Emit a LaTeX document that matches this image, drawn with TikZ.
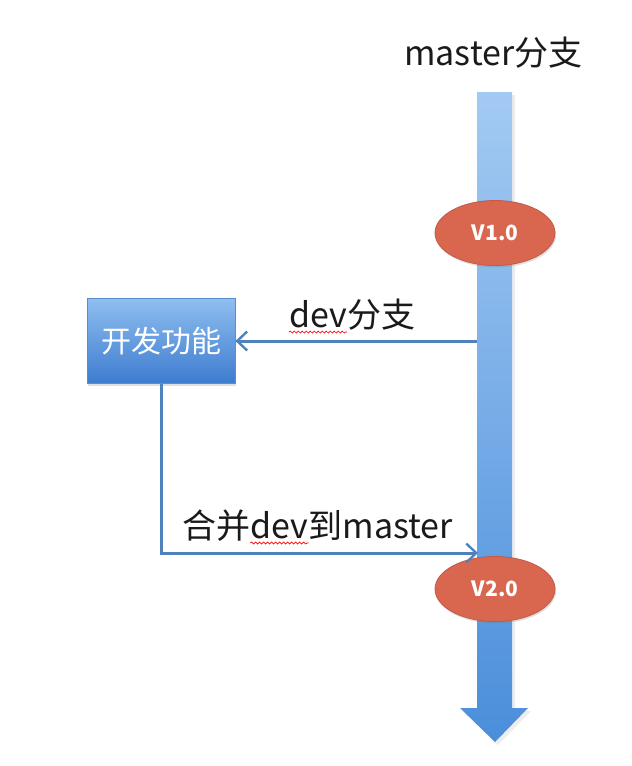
\documentclass[tikz,border=0pt]{standalone}
\usepackage{fontspec}
\setmainfont{Noto Sans CJK SC}
\usetikzlibrary{arrows.meta,shadows,shapes.geometric,decorations.pathmorphing}
\definecolor{shaftTop}{HTML}{A3CAF3}
\definecolor{shaftBot}{HTML}{4A8EDB}
\definecolor{boxTop}{HTML}{8FBEF0}
\definecolor{boxBot}{HTML}{3D7CCF}
\definecolor{boxLine}{HTML}{5A8FCF}
\definecolor{verFill}{HTML}{D9674F}
\definecolor{verLine}{HTML}{C25A45}
\definecolor{connCol}{HTML}{4F81BD}
\definecolor{textCol}{HTML}{1A1A1A}
\begin{document}
\begin{tikzpicture}[x=1pt,y=-1pt,
  ver/.style={ellipse, minimum width=120pt, minimum height=65pt, inner sep=0pt,
    fill=verFill, draw=verLine, line width=0.8pt, text=white,
    font=\fontsize{21}{24}\selectfont\bfseries,
    drop shadow={shadow xshift=1pt, shadow yshift=-2pt, opacity=0.25}},
  featbox/.style={rectangle, minimum width=148pt, minimum height=85pt, inner sep=0pt,
    top color=boxTop, bottom color=boxBot, draw=boxLine, line width=0.8pt, text=white,
    font=\fontsize{30}{33}\selectfont,
    drop shadow={shadow xshift=1pt, shadow yshift=-2pt, opacity=0.25}},
  conn/.style={draw=connCol, line width=3pt,
    -{Straight Barb[length=10pt,width=19pt,line width=2.4pt]}},
  lbl/.style={text=textCol, font=\fontsize{34}{37}\selectfont, inner sep=0pt, anchor=base west},
  spell/.style={draw=red, line width=0.7pt, decorate,
    decoration={snake, amplitude=1pt, segment length=4pt}}
]
\useasboundingbox (0,0) rectangle (632,766);
% master shaft with arrow head
\fill[black,opacity=0.07] (480,95) -- (515,95) -- (515,711) -- (531,711) -- (498,745) -- (463,711) -- (480,711) -- cycle;
\shade[top color=shaftTop, bottom color=shaftBot]
  (477,92) -- (512,92) -- (512,708) -- (528,708) -- (495,742) -- (460,708) -- (477,708) -- cycle;
\coordinate (devstart) at (477,341);
\coordinate (mergeend) at (478,553);
% nodes
\node[lbl] (mtitle) at (404,65) {master分支};
\node[ver] (v1) at (495,233) {V1.0};
\node[ver] (v2) at (495,589) {V2.0};
\node[featbox] (feat) at (161,341) {开发功能};
% connectors
\draw[conn] (devstart) -- (feat.east);
\draw[conn] (feat.south) |- (mergeend);
% labels
\node[lbl] (devw1) at (289,327) {dev};
\node[lbl] (devlbl) at (devw1.base east) {分支};
\draw[spell] ([yshift=-5pt]devw1.base west) -- ([yshift=-5pt]devw1.base east);
\node[lbl] (m1) at (182,538) {合并};
\node[lbl] (devw2) at (m1.base east) {dev};
\node[lbl] (m3) at (devw2.base east) {到master};
\draw[spell] ([yshift=-5pt]devw2.base west) -- ([yshift=-5pt]devw2.base east);
\end{tikzpicture}
\end{document}
